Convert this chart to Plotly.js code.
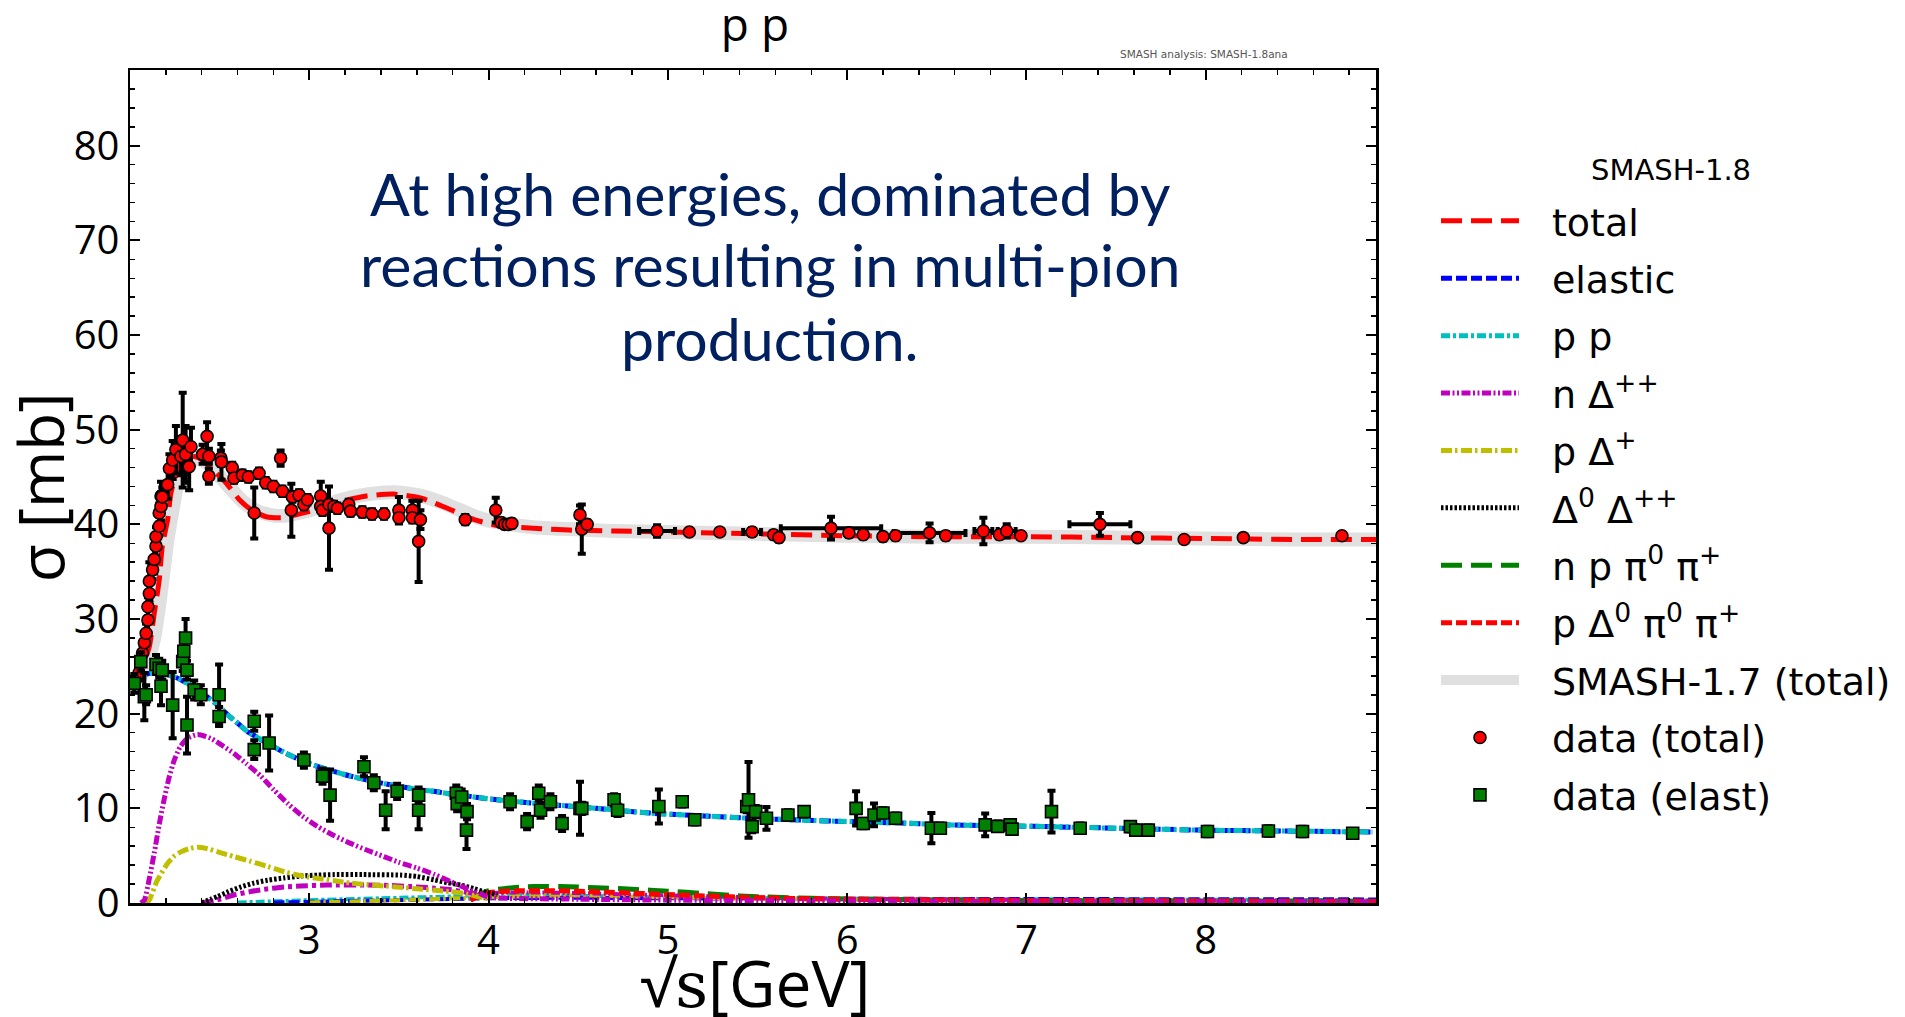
<!DOCTYPE html>
<html>
<head>
<meta charset="utf-8">
<script src="https://cdn.plot.ly/plotly-3.0.1.min.js"></script>
<style>html,body{margin:0;padding:0;background:#fff;} #chart{width:1905px;height:1017px;}</style>
</head>
<body>
<div id="chart"></div>
<script>
// ---------------- SMASH-1.8 model curves ----------------
const totalX = [2.015, 2.05, 2.08, 2.108, 2.135, 2.163, 2.18, 2.21, 2.228, 2.256, 2.294, 2.35, 2.405, 2.46, 2.535, 2.61, 2.68, 2.76, 2.85, 2.925, 3.03, 3.17, 3.32, 3.47, 3.62, 3.77, 3.92, 4.07, 4.25, 4.45, 4.7, 5.0, 5.5, 6.0, 6.5, 7.0, 7.5, 8.0, 8.5, 8.95];
const totalY = [23.5, 24.0, 25.5, 27.1, 30.6, 34.1, 37.7, 40.5, 43.3, 45.1, 46.7, 47.2, 46.8, 45.8, 44.4, 42.6, 41.5, 40.8, 40.7, 41.0, 41.5, 42.4, 43.0, 43.2, 42.8, 41.7, 40.5, 39.8, 39.6, 39.4, 39.3, 39.2, 39.0, 38.8, 38.7, 38.7, 38.6, 38.5, 38.4, 38.4];

const smash17X = [2.015, 2.06, 2.1, 2.135, 2.163, 2.19, 2.21, 2.238, 2.256, 2.284, 2.32, 2.38, 2.43, 2.49, 2.56, 2.63, 2.7, 2.78, 2.86, 2.94, 3.04, 3.18, 3.33, 3.48, 3.63, 3.78, 3.93, 4.08, 4.25, 4.45, 4.7, 5.0, 5.5, 6.0, 6.5, 7.0, 7.5, 8.0, 8.5, 8.95];
const smash17Y = [23.5, 23.9, 25.6, 28.0, 31.5, 35.5, 38.5, 41.6, 43.5, 45.4, 46.5, 46.9, 46.5, 45.3, 43.8, 42.4, 41.5, 41.0, 40.9, 41.2, 41.7, 42.6, 43.2, 43.4, 43.0, 42.0, 40.8, 40.1, 39.7, 39.5, 39.3, 39.2, 39.0, 38.8, 38.7, 38.7, 38.6, 38.5, 38.4, 38.4];

const elasticX = [2.015, 2.06, 2.117, 2.17, 2.21, 2.26, 2.32, 2.38, 2.43, 2.49, 2.544, 2.6, 2.656, 2.71, 2.767, 2.86, 2.953, 3.05, 3.138, 3.23, 3.324, 3.42, 3.51, 3.6, 3.695, 3.79, 3.88, 4.0, 4.16, 4.345, 4.6, 4.9, 5.2, 5.46, 5.75, 6.02, 6.3, 6.57, 7.04, 7.5, 7.97, 8.45, 8.93];
const elasticY = [23.6, 24.0, 24.3, 24.3, 24.1, 23.8, 23.2, 22.5, 21.8, 20.9, 19.9, 19.0, 18.1, 17.5, 16.9, 15.9, 15.1, 14.4, 13.9, 13.4, 13.0, 12.6, 12.3, 12.0, 11.8, 11.5, 11.3, 11.0, 10.7, 10.4, 10.0, 9.5, 9.2, 8.95, 8.75, 8.6, 8.45, 8.25, 8.1, 7.9, 7.7, 7.6, 7.5];

const ppX = elasticX;
const ppY = elasticY;

const nDppX = [2.06, 2.08, 2.107, 2.135, 2.163, 2.19, 2.22, 2.247, 2.28, 2.32, 2.377, 2.45, 2.51, 2.58, 2.65, 2.73, 2.8, 2.88, 2.96, 3.045, 3.14, 3.23, 3.32, 3.417, 3.5, 3.6, 3.7, 3.79, 3.88, 3.97, 4.0, 4.5, 5.0, 6.0, 7.0, 8.95];
const nDppY = [0.0, 0.3, 2.5, 5.25, 8.3, 10.9, 13.4, 15.1, 16.5, 17.4, 17.8, 17.4, 16.7, 15.8, 14.7, 13.4, 12.0, 10.5, 9.2, 8.1, 7.1, 6.3, 5.6, 4.9, 4.3, 3.7, 3.0, 2.25, 1.5, 0.85, 0.6, 0.4, 0.3, 0.2, 0.15, 0.1];

const pDpX = [2.09, 2.107, 2.15, 2.21, 2.25, 2.284, 2.33, 2.377, 2.43, 2.49, 2.58, 2.674, 2.77, 2.86, 2.95, 3.045, 3.14, 3.23, 3.32, 3.417, 3.51, 3.6, 3.7, 3.79, 3.88, 3.97, 4.0];
const pDpY = [0.0, 0.3, 2.3, 4.2, 5.0, 5.4, 5.75, 5.9, 5.75, 5.4, 4.9, 4.4, 3.85, 3.3, 2.9, 2.6, 2.35, 2.1, 1.95, 1.8, 1.65, 1.5, 1.35, 1.2, 0.95, 0.55, 0.45];

const D0DppX = [2.4, 2.45, 2.49, 2.55, 2.62, 2.69, 2.767, 2.86, 2.953, 3.05, 3.138, 3.3, 3.51, 3.6, 3.695, 3.77, 3.844, 3.92, 3.99, 4.05];
const D0DppY = [0.0, 0.4, 0.7, 1.2, 1.7, 2.1, 2.4, 2.65, 2.85, 2.95, 3.0, 3.0, 2.95, 2.8, 2.45, 2.15, 1.9, 1.5, 1.1, 0.9];

const nppi0piX = [3.9, 3.95, 4.0, 4.1, 4.2, 4.3, 4.4, 4.5, 4.6, 4.75, 4.9, 5.0, 5.2, 5.4, 5.6, 5.8, 6.0, 6.3, 6.6, 7.0, 7.5, 8.0, 8.5, 8.95];
const nppi0piY = [0.3, 0.9, 1.3, 1.55, 1.7, 1.75, 1.75, 1.7, 1.6, 1.5, 1.35, 1.25, 1.0, 0.75, 0.6, 0.5, 0.42, 0.36, 0.3, 0.26, 0.23, 0.21, 0.19, 0.18];

const pD0pi0piX = [3.9, 3.95, 4.0, 4.1, 4.2, 4.35, 4.5, 4.65, 4.8, 5.0, 5.2, 5.4, 5.6, 5.8, 6.0, 6.5, 7.0, 7.5, 8.0, 8.5, 8.95];
const pD0pi0piY = [0.3, 0.8, 1.1, 1.25, 1.3, 1.3, 1.25, 1.15, 1.05, 0.9, 0.75, 0.62, 0.52, 0.45, 0.4, 0.32, 0.27, 0.24, 0.21, 0.19, 0.17];

// other (unlabelled) small channels
const otherMagX = [2.4, 2.5, 2.58, 2.67, 2.77, 2.86, 2.95, 3.1, 3.32, 3.45, 3.6, 3.7, 3.79, 3.87, 3.955, 4.0];
const otherMagY = [0.0, 0.4, 0.85, 1.2, 1.5, 1.7, 1.8, 1.9, 1.9, 1.85, 1.7, 1.55, 1.4, 1.15, 0.85, 0.7];
const otherCyanX = [2.6, 3.0, 3.4, 3.8, 4.0, 4.4, 5.0, 6.0, 7.0, 8.0, 8.95];
const otherCyanY = [0.05, 0.3, 0.5, 0.7, 0.9, 0.8, 0.6, 0.45, 0.4, 0.35, 0.3];
const otherBlueX = [2.8, 3.2, 3.6, 4.0, 4.5, 5.0, 6.0, 7.0, 8.0, 8.95];
const otherBlueY = [0.05, 0.2, 0.35, 0.5, 0.55, 0.5, 0.45, 0.42, 0.4, 0.38];
const otherYelX = [3.0, 3.5, 4.0, 4.5, 5.0, 5.5, 6.0, 7.0, 8.95];
const otherYelY = [0.05, 0.3, 0.6, 0.8, 0.6, 0.45, 0.35, 0.25, 0.15];
const otherMag2X = [3.9, 4.0, 4.3, 4.6, 5.0, 5.5, 6.0, 7.0, 8.0, 8.95];
const otherMag2Y = [0.3, 1.0, 1.1, 1.0, 0.8, 0.6, 0.45, 0.33, 0.26, 0.22];

// ---------------- measured data ----------------
const dataTotX = [2.05, 2.07, 2.08, 2.09, 2.10, 2.10, 2.108, 2.108, 2.126, 2.135, 2.145, 2.145, 2.163, 2.163, 2.173, 2.173, 2.18, 2.21, 2.22, 2.238, 2.256, 2.284, 2.294, 2.31, 2.34, 2.33, 2.405, 2.43, 2.44, 2.44, 2.507, 2.51, 2.57, 2.58, 2.627, 2.66, 2.693, 2.72, 2.757, 2.80, 2.84, 2.85, 2.90, 2.906,
  2.943, 2.97, 2.99, 3.064, 3.064, 3.074, 3.11, 3.11, 3.138, 3.157, 3.22, 3.23, 3.296, 3.35, 3.417, 3.50, 3.50, 3.575, 3.575, 3.62, 3.61, 3.87, 4.04, 4.07, 4.09, 4.11, 4.13, 4.51, 4.52, 4.55,
  4.94, 5.12, 5.29, 5.47, 5.59, 5.62, 5.91, 6.01, 6.09, 6.2, 6.27, 6.46, 6.55, 6.76, 6.85, 6.89, 6.97, 7.41, 7.62, 7.88, 8.21, 8.76];
const dataTotY = [24.3, 26.4, 27.5, 28.5, 29.9, 31.3, 32.7, 34.0, 35.2, 36.3, 37.7, 38.7, 39.8, 41.2, 41.9, 43.0, 42.9, 44.2, 45.9, 46.8, 47.9, 47.2, 48.9, 47.4, 48.2, 46.1, 47.4, 49.3, 47.2, 45.1, 47.0, 46.6, 46.0, 44.9, 45.2, 45.0, 41.2, 45.4, 44.4, 44.0, 47.0, 43.5, 41.5, 42.9,
  43.1, 42.1, 42.6, 43.0, 41.9, 41.5, 42.1, 39.6, 41.9, 41.7, 42.1, 41.4, 41.3, 41.1, 41.1, 41.5, 40.7, 41.5, 40.7, 40.5, 38.2, 40.5, 41.5, 40.2, 40.0, 40.0, 40.1, 41.0, 39.5, 40.0,
  39.3, 39.2, 39.2, 39.2, 38.9, 38.6, 39.6, 39.1, 38.9, 38.7, 38.8, 39.1, 38.8, 39.3, 38.9, 39.3, 38.8, 40.0, 38.6, 38.4, 38.6, 38.8];
const dataTotErrY = [0.8, 0.8, 1.0, 1.0, 1.5, 1.0, 1.0, 2.0, 1.0, 1.5, 1.0, 1.0, 1.0, 1.0, 1.5, 1.5, 1.0, 1.5, 1.5, 2.0, 2.5, 2.0, 5.0, 3.0, 2.0, 2.5, 1.0, 1.5, 0.8, 0.8, 0.8, 1.9, 0.5, 0.5, 0.5, 0.5, 2.7, 0.5, 0.5, 0.5, 0.8, 0.5, 2.8, 0.5,
  0.5, 0.5, 0.5, 1.5, 0.5, 0.5, 0.5, 4.4, 0.5, 0.5, 0.5, 0.5, 0.5, 0.5, 0.5, 1.4, 0.5, 1.0, 0.5, 1.0, 4.3, 0.5, 1.3, 0.4, 0.4, 0.4, 0.4, 1.0, 2.6, 0.4,
  0.6, 0.3, 0.3, 0.4, 0.4, 0.4, 1.2, 0.4, 0.4, 0.4, 0.4, 1.0, 0.4, 1.4, 0.4, 0.7, 0.3, 1.2, 0.3, 0.3, 0.3, 0.3];
const dataTotErrX = [0, 0, 0, 0, 0, 0, 0, 0, 0, 0, 0, 0, 0, 0, 0, 0, 0, 0, 0, 0, 0, 0, 0, 0, 0, 0, 0, 0, 0, 0, 0, 0, 0, 0, 0, 0, 0, 0, 0, 0, 0, 0, 0, 0,
  0, 0, 0, 0, 0, 0, 0, 0, 0, 0, 0, 0, 0, 0, 0, 0, 0, 0, 0, 0, 0, 0, 0, 0, 0, 0, 0, 0, 0, 0,
  0.1, 0, 0, 0.05, 0, 0, 0.28, 0, 0, 0, 0, 0.2, 0, 0.05, 0, 0.05, 0, 0.17, 0, 0, 0, 0];

const dataElX = [2.024, 2.06, 2.08, 2.09, 2.145, 2.163, 2.173, 2.18, 2.238, 2.294, 2.30, 2.31, 2.318, 2.318, 2.358, 2.395, 2.497, 2.497, 2.693, 2.693, 2.776, 2.97, 3.074, 3.116, 3.305, 3.36, 3.426, 3.49, 3.61, 3.61, 3.82, 3.825, 3.85, 3.88, 3.877,
  4.12, 4.215, 4.28, 4.29, 4.345, 4.41, 4.51, 4.52, 4.70, 4.72, 4.95, 5.08, 5.15, 5.44, 5.45, 5.47, 5.49, 5.55, 5.67, 5.76, 6.05, 6.09, 6.15, 6.2, 6.27, 6.47, 6.52, 6.77, 6.84, 6.91, 6.92, 7.14, 7.30, 7.58, 7.61, 7.68, 8.01, 8.35, 8.54, 8.82];
const dataElY = [23.2, 25.5, 21.8, 22.0, 25.2, 24.8, 22.9, 24.6, 20.9, 25.5, 26.6, 28.0, 24.6, 18.8, 22.5, 22.0, 22.0, 19.7, 19.2, 16.2, 16.9, 15.1, 13.4, 11.4, 14.4, 12.7, 9.8, 11.8, 11.4, 9.8, 11.6, 10.5, 11.2, 9.65, 7.7,
  10.7, 8.6, 11.6, 9.8, 10.7, 8.4, 10.0, 10.0, 10.9, 9.8, 10.2, 10.7, 8.8, 10.2, 10.9, 8.07, 9.65, 8.95, 9.3, 9.65, 10.0, 8.4, 9.3, 9.5, 8.95, 7.9, 7.9, 8.25, 8.1, 8.25, 7.8, 9.65, 7.9, 8.07, 7.7, 7.7, 7.55, 7.6, 7.55, 7.37];
const dataElErrY = [1.0, 1.0, 2.5, 1.0, 1.0, 1.0, 2.0, 1.0, 3.5, 1.0, 1.0, 2.0, 1.0, 3.0, 1.0, 1.0, 3.2, 1.0, 1.0, 1.0, 2.9, 0.8, 0.8, 2.7, 1.0, 0.8, 2.0, 0.8, 0.8, 2.0, 0.8, 0.8, 0.8, 0.8, 2.0,
  0.8, 0.8, 0.8, 0.8, 0.8, 0.8, 2.8, 0.6, 0.6, 0.6, 1.8, 0.5, 0.5, 0.6, 4.0, 0.6, 0.6, 1.2, 0.5, 0.5, 1.8, 0.5, 1.2, 0.5, 0.5, 1.6, 0.5, 1.2, 0.5, 0.5, 0.5, 2.2, 0.5, 0.5, 0.5, 0.5, 0.5, 0.5, 0.5, 0.4];

// ---------------- labels ----------------
const pad = '\u00a0\u00a0\u200a';   // gap between legend sample and its text
const legendTitle = 'SMASH-1.8';
const legendNames = {
  total: 'total',
  elastic: 'elastic',
  pp: 'p p',
  nDpp: 'n \u0394<sup>++</sup>',
  pDp: 'p \u0394<sup>+</sup>',
  D0Dpp: '\u0394<sup>0</sup> \u0394<sup>++</sup>',
  nppi0pi: 'n p \u03c0<sup>0</sup> \u03c0<sup>+</sup>',
  pD0pi0pi: 'p \u0394<sup>0</sup> \u03c0<sup>0</sup> \u03c0<sup>+</sup>',
  smash17: 'SMASH-1.7 (total)',
  dataTot: 'data (total)',
  dataEl: 'data (elast)'
};
const xTickVals = [3, 4, 5, 6, 7, 8];
const xTitle = '\u221a<span style="font-family:DejaVu Serif">s</span>[GeV]';
const yTitle = '\u03c3 [mb]';
const noteLines = ['At high energies, dominated by', 'reactions resulting in multi-pion', 'production.'];
const noteLineY = [75.0, 67.5, 59.6];

// ---------------- traces ----------------
function curve(x, y, color, dash, width, name, rank, show) {
  return {
    x: x, y: y, type: 'scatter', mode: 'lines', name: show ? pad + name : '',
    legendgroup: show ? name : undefined, legendrank: rank || 1000, showlegend: !!show,
    line: {color: color, dash: dash, width: width, shape: 'spline', smoothing: 0.6},
    hoverinfo: 'skip'
  };
}

const traces = [
  curve(smash17X, smash17Y, '#e0e0e0', 'solid', 14, legendNames.smash17, 9, true),
  curve(otherCyanX, otherCyanY, '#00bfbf', '9px,3px,3px,3px', 4, '', 0, false),
  curve(otherBlueX, otherBlueY, '#0000ff', '11px,4px', 4, '', 0, false),
  curve(otherYelX, otherYelY, '#bfbf00', '11px,3px,2.5px,3.5px', 4, '', 0, false),
  curve(otherMag2X, otherMag2Y, '#bf00bf', '9px,2.5px,2px,2.5px,2px,2.5px', 4, '', 0, false),
  curve(otherMagX, otherMagY, '#bf00bf', '12px,4px,4px,4px', 5, '', 0, false),
  curve(nppi0piX, nppi0piY, '#008000', '21px,9px', 5, legendNames.nppi0pi, 7, true),
  curve(pD0pi0piX, pD0pi0piY, '#ff0000', '11px,4px', 5, legendNames.pD0pi0pi, 8, true),
  curve(D0DppX, D0DppY, '#000000', '2.5px,2px', 5, legendNames.D0Dpp, 6, true),
  curve(pDpX, pDpY, '#bfbf00', '11px,3px,2.5px,3.5px', 5, legendNames.pDp, 5, true),
  curve(nDppX, nDppY, '#bf00bf', '9px,2.5px,2px,2.5px,2px,2.5px', 5, legendNames.nDpp, 4, true),
  curve(elasticX, elasticY, '#0000ff', '11px,4px', 5, legendNames.elastic, 2, true),
  curve(ppX, ppY, '#00bfbf', '9px,3px,3px,3px', 5, legendNames.pp, 3, true),
  curve(totalX, totalY, '#ff0000', '21px,9px', 5, legendNames.total, 1, true),
  {
    x: dataTotX, y: dataTotY, type: 'scatter', mode: 'markers', name: pad + legendNames.dataTot,
    legendgroup: 'dataTot', legendrank: 10,
    marker: {symbol: 'circle', size: 12, color: '#ff0000', line: {color: '#000000', width: 1.6}},
    error_y: {type: 'data', array: dataTotErrY, visible: true, color: '#000000', thickness: 4, width: 4},
    error_x: {type: 'data', array: dataTotErrX, visible: true, color: '#000000', thickness: 4, width: 4}
  },
  {
    x: dataElX, y: dataElY, type: 'scatter', mode: 'markers', name: pad + legendNames.dataEl,
    legendgroup: 'dataEl', legendrank: 11,
    marker: {symbol: 'square', size: 12, color: '#008000', line: {color: '#000000', width: 1.6}},
    error_y: {type: 'data', array: dataElErrY, visible: true, color: '#000000', thickness: 4, width: 4}
  }
];

const axisCommon = {
  showline: true, linecolor: '#000000', linewidth: 2.5, mirror: 'ticks',
  ticks: 'inside', ticklen: 10, tickwidth: 2, tickcolor: '#000000',
  showgrid: false, zeroline: false,
  tickfont: {family: 'Open Sans', size: 40, color: '#000000'}
};

const layout = {
  width: 1905, height: 1017, autosize: false,
  paper_bgcolor: '#ffffff', plot_bgcolor: '#ffffff',
  margin: {l: 130, r: 529, t: 70, b: 114, pad: 0},
  title: {text: 'p p', x: 0.3963, xanchor: 'center', xref: 'container', y: 0.976, yanchor: 'middle', yref: 'container',
          font: {family: 'Open Sans', size: 46, color: '#000000'}},
  xaxis: Object.assign({}, axisCommon, {
    range: [2.0, 8.95], tickvals: xTickVals, ticktext: xTickVals.map(String),
    minor: {dtick: 0.2, tick0: 0, ticks: 'inside', ticklen: 5, tickwidth: 1.5, tickcolor: '#000000', showgrid: false}
  }),
  yaxis: Object.assign({}, axisCommon, {
    range: [0, 88], dtick: 10, tick0: 0,
    minor: {dtick: 2, tick0: 0, ticks: 'inside', ticklen: 5, tickwidth: 1.5, tickcolor: '#000000', showgrid: false}
  }),
  showlegend: true,
  legend: {
    xref: 'container', yref: 'container',
    x: 0.7538, xanchor: 'left', y: 0.8135, yanchor: 'top', maxheight: 900,
    bgcolor: 'rgba(0,0,0,0)', borderwidth: 0,
    font: {family: 'DejaVu Sans', size: 38, color: '#000000'},
    itemwidth: 78, tracegroupgap: 5, itemsizing: 'trace', traceorder: 'grouped'
  },
  annotations: noteLines.map((t, i) => ({
      text: t, x: 5.57, y: noteLineY[i], xref: 'x', yref: 'y',
      xanchor: 'center', yanchor: 'middle', align: 'center', showarrow: false,
      font: {family: 'Lato', size: 59, color: '#002060'}
    })).concat([
    {
      text: legendTitle, x: 1.2368, y: 0.88, xref: 'paper', yref: 'paper',
      xanchor: 'center', yanchor: 'middle', showarrow: false,
      font: {family: 'DejaVu Sans', size: 29, color: '#000000'}
    },
    {
      text: xTitle, x: 0.5016, y: -0.0955, xref: 'paper', yref: 'paper',
      xanchor: 'center', yanchor: 'middle', showarrow: false,
      font: {family: 'Open Sans', size: 64, color: '#000000'}
    },
    {
      text: yTitle, x: -0.0722, y: 0.499, xref: 'paper', yref: 'paper', textangle: -90,
      xanchor: 'center', yanchor: 'middle', showarrow: false,
      font: {family: 'Open Sans', size: 62, color: '#000000'}
    },
    {
      text: 'SMASH analysis: SMASH-1.8ana', x: 0.862, y: 1.0192, xref: 'paper', yref: 'paper',
      xanchor: 'center', yanchor: 'middle', showarrow: false,
      font: {family: 'DejaVu Sans', size: 10.5, color: '#555555'}
    }
  ])
};

Plotly.newPlot('chart', traces, layout, {displayModeBar: false, staticPlot: true});
</script>
</body>
</html>
